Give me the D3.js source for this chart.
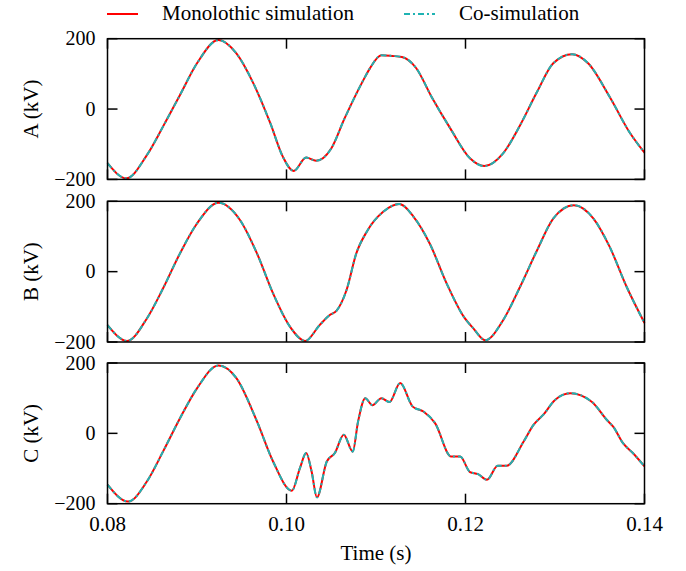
<!DOCTYPE html>
<html>
<head>
<meta charset="utf-8">
<script src="https://cdn.jsdelivr.net/npm/d3@7"></script>
<style>
  body { margin: 0; background: #fff; }
  text { font-family: "Liberation Serif", "Times New Roman", serif; font-size: 21px; fill: #000; }
  text.ytick { font-size: 20px; }
</style>
</head>
<body>
<script>
// values (kV vs s)
var tA = [0.0800,0.0821,0.0844,0.0862,0.0881,0.0900,0.0924,0.0944,0.0963,0.0982,0.0996,0.1008,0.1022,0.1033,0.1050,0.1065,0.1086,0.1093,0.1106,0.1118,0.1129,0.1145,0.1162,0.1183,0.1205,0.1221,0.1242,0.1261,0.1280,0.1298,0.1319,0.1337,0.1361,0.1384,0.1400];
var vA = [-154,-197,-131,-50,40,130,196,158,73,-41,-136,-176,-138,-147,-112,-26,83,115,153,151,148,116,35,-55,-140,-162,-126,-46,49,130,156,130,35,-69,-124];

var tB = [0.0800,0.0822,0.0844,0.0862,0.0881,0.0900,0.0924,0.0948,0.0967,0.0985,0.1004,0.1021,0.1037,0.1048,0.1056,0.1067,0.1078,0.1090,0.1108,0.1126,0.1142,0.1160,0.1179,0.1198,0.1209,0.1222,0.1242,0.1261,0.1280,0.1298,0.1321,0.1343,0.1361,0.1380,0.1400];
var vB = [-152,-197,-133,-48,52,137,196,147,52,-62,-157,-197,-152,-124,-111,-53,52,115,170,192,156,80,-34,-128,-162,-195,-138,-43,61,151,189,151,71,-43,-146];

var tC = [0.0800,0.0823,0.0844,0.0862,0.0881,0.0900,0.0924,0.0944,0.0967,0.0985,0.1006,0.1015,0.1022,0.1028,0.1034,0.1045,0.1054,0.1064,0.1074,0.1080,0.1088,0.1096,0.1106,0.1115,0.1127,0.1141,0.1153,0.1166,0.1184,0.1194,0.1205,0.1214,0.1224,0.1236,0.1246,0.1265,0.1276,0.1287,0.1300,0.1317,0.1341,0.1358,0.1365,0.1376,0.1387,0.1400];
var vC = [-146,-194,-137,-52,43,128,193,157,34,-80,-163,-99,-56,-108,-182,-80,-56,-4,-52,34,100,80,100,89,143,76,62,29,-66,-66,-110,-116,-132,-92,-92,-23,24,53,95,114,90,38,19,-28,-56,-94];

var panelNames = ["A (kV)", "B (kV)", "C (kV)"];
var xTicks = [0.08, 0.10, 0.12, 0.14];
var yTicks = [-200, 0, 200];
var legendNames = ["Monolothic simulation", "Co-simulation"];

var width = 686, height = 571;
var left = 107.5, right = 644.5;
var panelTops = [38.7, 201.3, 363];
var panelH = 140.7;
var tickLen = 10;
var red = "#ff0000", cyan = "#1fb3b3";
var cyanDash = "6,3,2,3";

var svg = d3.select("body").append("svg")
    .attr("width", width)
    .attr("height", height);

var x = d3.scaleLinear().domain([0.08, 0.14]).range([left, right]);

var series = [[tA, vA], [tB, vB], [tC, vC]];

series.forEach(function(s, i) {
    var top = panelTops[i], bottom = top + panelH;
    var y = d3.scaleLinear().domain([-200, 200]).range([bottom, top]);
    var g = svg.append("g");

    var pts = s[0].map(function(t, j) { return [t, s[1][j]]; });
    var line = d3.line()
        .x(function(d) { return x(d[0]); })
        .y(function(d) { return y(d[1]); })
        .curve(d3.curveMonotoneX);

    g.append("path").attr("d", line(pts))
        .attr("fill", "none").attr("stroke", red).attr("stroke-width", 2);
    g.append("path").attr("d", line(pts))
        .attr("fill", "none").attr("stroke", cyan).attr("stroke-width", 2)
        .attr("stroke-dasharray", cyanDash);

    // ticks, inward on all four sides
    xTicks.forEach(function(t) {
        g.append("line").attr("x1", x(t)).attr("x2", x(t))
            .attr("y1", top).attr("y2", top + tickLen)
            .attr("stroke", "#000").attr("stroke-width", 1.5);
        g.append("line").attr("x1", x(t)).attr("x2", x(t))
            .attr("y1", bottom).attr("y2", bottom - tickLen)
            .attr("stroke", "#000").attr("stroke-width", 1.5);
    });
    yTicks.forEach(function(v) {
        g.append("line").attr("x1", left).attr("x2", left + tickLen)
            .attr("y1", y(v)).attr("y2", y(v))
            .attr("stroke", "#000").attr("stroke-width", 1.5);
        g.append("line").attr("x1", right).attr("x2", right - tickLen)
            .attr("y1", y(v)).attr("y2", y(v))
            .attr("stroke", "#000").attr("stroke-width", 1.5);
        g.append("text")
            .attr("class", "ytick")
            .attr("x", left - 12).attr("y", y(v) + 6.5)
            .attr("text-anchor", "end")
            .text(v < 0 ? "\u2212" + Math.abs(v) : v);
    });

    g.append("rect")
        .attr("x", left).attr("y", top)
        .attr("width", right - left).attr("height", panelH)
        .attr("fill", "none").attr("stroke", "#000").attr("stroke-width", 1.5);

    g.append("text")
        .attr("transform", "translate(38," + (top + panelH / 2) + ") rotate(-90)")
        .attr("text-anchor", "middle")
        .text(panelNames[i]);

    if (i == 2) {
        xTicks.forEach(function(t) {
            g.append("text")
                .attr("x", x(t)).attr("y", bottom + 27)
                .attr("text-anchor", "middle")
                .text(d3.format(".2f")(t));
        });
    }
});

svg.append("text")
    .attr("x", (left + right) / 2).attr("y", 560)
    .attr("text-anchor", "middle")
    .text("Time (s)");

// legend
var leg = svg.append("g");
leg.append("line").attr("x1", 107).attr("x2", 138).attr("y1", 14).attr("y2", 14)
    .attr("stroke", red).attr("stroke-width", 2);
leg.append("text").attr("x", 162).attr("y", 20).text(legendNames[0]);
leg.append("line").attr("x1", 404).attr("x2", 435).attr("y1", 14).attr("y2", 14)
    .attr("stroke", cyan).attr("stroke-width", 2).attr("stroke-dasharray", cyanDash);
leg.append("text").attr("x", 459).attr("y", 20).text(legendNames[1]);
</script>
</body>
</html>
